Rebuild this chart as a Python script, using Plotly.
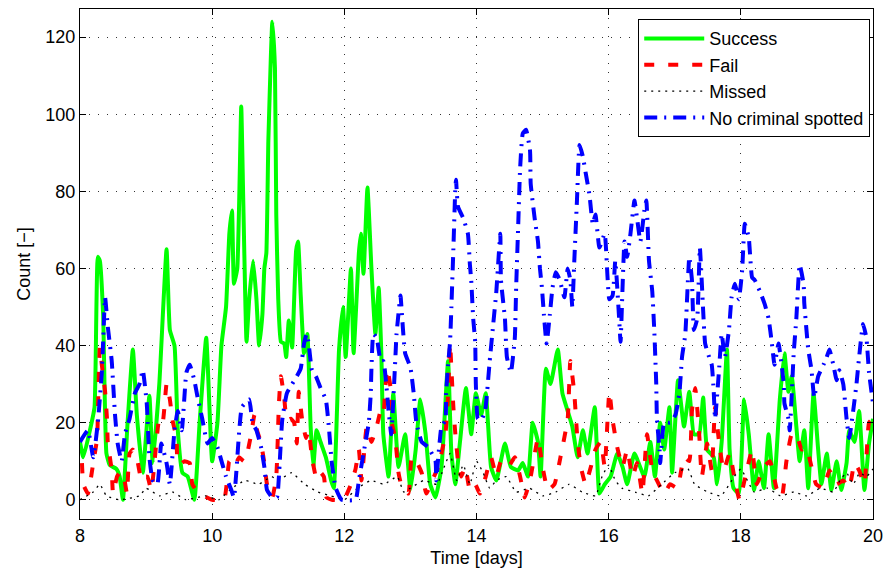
import plotly.graph_objects as go

# ---------------- data (time in days, counts) ----------------
success_t = [8.00, 8.05, 8.15, 8.22, 8.27, 8.30, 8.35, 8.40, 8.45, 8.55, 8.60, 8.65, 8.72, 8.80, 8.86, 8.95,
             9.05, 9.10, 9.20, 9.31, 9.36, 9.43, 9.48, 9.55, 9.63, 9.73, 9.81, 9.91, 10.00, 10.08, 10.14,
             10.21, 10.26, 10.30, 10.33, 10.38, 10.44, 10.47, 10.52, 10.56, 10.62, 10.67, 10.71, 10.76,
             10.79, 10.82, 10.85, 10.89, 10.91, 10.95, 10.97, 11.00, 11.04, 11.09, 11.12, 11.16, 11.21,
             11.27, 11.30, 11.34, 11.39, 11.44, 11.49, 11.53, 11.58, 11.64, 11.72, 11.80, 11.84, 11.92,
             11.98, 12.02, 12.10, 12.14, 12.22, 12.25, 12.29, 12.35, 12.41, 12.47, 12.52, 12.56, 12.59,
             12.67, 12.74, 12.82, 12.92, 13.00, 13.08, 13.15, 13.23, 13.30, 13.38, 13.47, 13.57, 13.62,
             13.68, 13.75, 13.84, 13.92, 13.99, 14.07, 14.14, 14.22, 14.30, 14.43, 14.52, 14.63, 14.70,
             14.78, 14.85, 14.93, 14.97, 15.05, 15.12, 15.23, 15.30, 15.38, 15.45, 15.53, 15.61, 15.68,
             15.79, 15.86, 15.94, 16.03, 16.13, 16.21, 16.28, 16.39, 16.54, 16.63, 16.70, 16.78, 16.84,
             16.92, 16.96, 17.05, 17.14, 17.22, 17.29, 17.37, 17.43, 17.49, 17.59, 17.64, 17.71, 17.79,
             17.83, 17.89, 17.97, 18.05, 18.12, 18.20, 18.27, 18.35, 18.42, 18.50, 18.59, 18.66, 18.72,
             18.77, 18.84, 18.89, 18.96, 19.02, 19.10, 19.17, 19.22, 19.30, 19.37, 19.45, 19.52, 19.60,
             19.64, 19.72, 19.79, 19.87, 19.94, 20.00]
success_v = [15, 11, 18, 24, 63, 62, 48, 12, 9, 8, 6, 0, 20, 39, 22, 7,
             27, 9.5, 30, 65, 44, 40, 18, 7, 6, 0, 20, 42, 10, 20, 40,
             50, 69, 75, 56, 60, 102, 78, 41, 52, 62, 52, 40, 48,
             60, 64, 93, 116, 124, 112, 74, 52, 41, 40.5, 37, 46.5, 39.5,
             64.6, 67, 53, 38, 43, 19, 8.5, 18, 15, 11, 5, 3, 39,
             50, 37, 60, 38, 64, 69, 58.6, 81, 60, 43, 55, 38, 17,
             6, 27.6, 8.5, 17, 2.5, 13, 26, 17, 4, 0.6, 8.5, 36, 12,
             4, 15, 29, 17, 27.6, 22, 27.6, 8.5, 5, 14.6, 8.5, 7.6, 9.5,
             6, 20, 15, 6, 34, 30, 39, 27.6, 23, 19, 11, 18, 12,
             24, 1.6, 4, 6, 12, 8.5, 4, 12, 6, 15, 6, 20, 13,
             24, 7, 31, 19, 28, 17, 17, 26.5, 13, 11, 4, 15, 39,
             13, 3, 1.6, 26, 17, 2.5, 10, 3, 17, 3, 26, 38, 28,
             32, 19, 10, 18, 3, 27.6, 13, 4, 12, 2.5, 10, 2.5, 9.5,
             18, 15, 23, 2.5, 14.6, 21]

fail_t = [8.03, 8.05, 8.12, 8.20, 8.26, 8.27, 8.30, 8.33, 8.38, 8.41, 8.42, 8.48, 8.50, 8.56, 8.60, 8.65,
          8.71, 8.75, 8.80, 8.87, 8.93, 8.98, 9.02, 9.08, 9.20, 9.25, 9.31, 9.36, 9.40, 9.46, 9.48, 9.54,
          9.58, 9.66, 9.70, 9.76, 9.88, 10.00, 10.18, 10.26, 10.33, 10.41, 10.48, 10.53, 10.59, 10.64,
          10.68, 10.74, 10.79, 10.83, 10.91, 10.97, 11.01, 11.04, 11.09, 11.13, 11.19, 11.24, 11.28,
          11.31, 11.36, 11.42, 11.46, 11.51, 11.57, 11.61, 11.69, 11.73, 11.81, 11.99, 12.10, 12.17,
          12.22, 12.26, 12.34, 12.41, 12.49, 12.55, 12.59, 12.62, 12.65, 12.70, 12.71, 12.77, 12.82,
          12.86, 12.97, 13.02, 13.09, 13.17, 13.24, 13.33, 13.42, 13.53, 13.57, 13.60, 13.62, 13.65,
          13.68, 13.72, 13.77, 13.83, 13.90, 13.98, 14.05, 14.14, 14.22, 14.30, 14.37, 14.48, 14.58,
          14.66, 14.73, 14.82, 14.93, 15.00, 15.08, 15.18, 15.27, 15.38, 15.42, 15.48, 15.53, 15.58,
          15.65, 15.73, 15.80, 15.88, 15.94, 16.01, 16.06, 16.13, 16.21, 16.28, 16.36, 16.43, 16.51,
          16.58, 16.66, 16.73, 16.84, 16.93, 17.04, 17.14, 17.22, 17.26, 17.31, 17.37, 17.41, 17.49,
          17.56, 17.61, 17.67, 17.74, 17.83, 17.91, 17.98, 18.09, 18.17, 18.24, 18.35, 18.44, 18.54,
          18.62, 18.69, 18.77, 18.84, 18.92, 18.99, 19.07, 19.14, 19.25, 19.34, 19.45, 19.55, 19.64,
          19.72, 19.79, 19.87, 19.94, 20.00]
fail_v = [9.5, 4, 1.6, 9.5, 16, 22, 39.5, 35, 28, 20.6, 15, 7.6, 1.6, 6, 7, 7,
          1.6, 12, 13, 10, 5, 6, 6, 2.5, 21, 20, 30, 26, 20.6, 16, 9.5, 9.5,
          10, 9.5, 4, 2.5, 1, 0, 0, 10, 8.5, 11, 10, 12, 17, 22,
          18, 14.6, 9.5, 4, 0.6, 6, 25, 32, 26.5, 20.6, 21, 20, 14.6,
          28, 21, 16, 18, 11, 6, 7.6, 6, 0.6, 0, 0, 4, 8,
          13, 5, 19, 15, 19, 23, 22, 29, 34, 29, 20.6, 16, 7,
          4, 1.6, 11, 10, 7, 1.6, 5, 8.5, 17, 27.6, 40.5, 34, 24,
          17, 10, 6, 8.5, 2.5, 4, 1.6, 6, 11, 6, 10, 8.5, 11,
          6, 0.6, 6, 16, 8.5, 2.5, 4, 11, 21, 36, 27.6, 15, 8.5,
          4, 8.5, 13, 15, 8.5, 28, 20.6, 13.6, 8.5, 13, 6, 9.5, 1.6,
          17, 7.6, 5, 1.6, 4, 3, 11, 10, 23, 29, 17, 6, 14.6,
          7.6, 24, 15, 7.6, 12, 5, 0, 7.6, 13, 4, 8.5, 10, 3,
          0.6, 10, 17, 17, 13, 13.6, 8.5, 4, 3, 7.6, 4, 5, 3,
          9.5, 7.6, 4, 20, 21]

missed_t = [8.0, 8.2, 8.3, 8.4, 8.6, 8.9, 9.0, 9.2, 9.4, 9.6, 9.9, 10.1, 10.3, 10.5, 10.7, 10.9, 11.0,
            11.2, 11.4, 11.6, 11.8, 12.0, 12.2, 12.4, 12.6, 12.8, 12.9, 13.0, 13.2, 13.4, 13.5, 13.6,
            13.7, 13.8, 13.9, 14.0, 14.1, 14.2, 14.3, 14.45, 14.6, 14.8, 15.0, 15.2, 15.4, 15.6, 15.8,
            15.9, 16.0, 16.1, 16.2, 16.4, 16.6, 16.8, 17.0, 17.2, 17.3, 17.5, 17.7, 17.9, 18.0, 18.1,
            18.2, 18.4, 18.6, 18.8, 19.0, 19.2, 19.4, 19.5, 19.6, 19.7, 19.8, 19.9, 20.0]
missed_v = [0, 2, 4, 1, 0, 1, 3, 1, 2, 0, 1, 0, 3, 5, 4, 6, 5,
            7, 4, 2, 1, 0, 3, 5, 4, 6, 2, 3, 5, 4, 8, 12,
            5, 9, 4, 10, 7, 3, 5, 6, 2, 3, 1, 2, 4, 2, 1,
            6, 9, 5, 3, 2, 1, 4, 7, 8, 4, 2, 1, 6, 8, 5,
            2, 3, 1, 2, 1, 3, 2, 5, 7, 4, 7, 6, 8]

nocrim_t = [8.00, 8.12, 8.20, 8.27, 8.33, 8.35, 8.38, 8.42, 8.48, 8.53, 8.57, 8.63, 8.68, 8.75, 8.83, 8.90,
            8.95, 9.01, 9.05, 9.10, 9.17, 9.23, 9.31, 9.36, 9.43, 9.48, 9.54, 9.61, 9.66, 9.73, 9.78,
            9.85, 9.93, 10.00, 10.08, 10.15, 10.21, 10.29, 10.33, 10.41, 10.45, 10.56, 10.61, 10.67,
            10.74, 10.79, 10.83, 10.91, 10.98, 11.01, 11.06, 11.13, 11.21, 11.28, 11.34, 11.39, 11.43,
            11.46, 11.51, 11.57, 11.64, 11.72, 11.77, 11.81, 11.87, 11.96, 12.17, 12.22, 12.29, 12.37,
            12.40, 12.41, 12.44, 12.49, 12.55, 12.59, 12.67, 12.71, 12.77, 12.79, 12.85, 12.86, 12.92,
            13.00, 13.05, 13.09, 13.17, 13.27, 13.38, 13.39, 13.47, 13.53, 13.54, 13.57, 13.60, 13.62,
            13.65, 13.68, 13.69, 13.72, 13.80, 13.87, 13.90, 13.92, 13.95, 13.98, 13.99, 14.02, 14.07,
            14.13, 14.20, 14.25, 14.30, 14.36, 14.37, 14.43, 14.46, 14.52, 14.58, 14.60, 14.63, 14.66,
            14.70, 14.75, 14.81, 14.82, 14.88, 14.93, 14.96, 14.99, 15.02, 15.06, 15.11, 15.15, 15.20,
            15.26, 15.33, 15.38, 15.42, 15.45, 15.48, 15.52, 15.56, 15.61, 15.65, 15.71, 15.76, 15.80,
            15.86, 15.94, 15.98, 16.01, 16.06, 16.10, 16.16, 16.18, 16.24, 16.28, 16.33, 16.39, 16.43,
            16.48, 16.54, 16.57, 16.61, 16.66, 16.69, 16.72, 16.73, 16.77, 16.78, 16.84, 16.93, 17.01,
            17.07, 17.11, 17.16, 17.22, 17.26, 17.29, 17.34, 17.38, 17.43, 17.46, 17.52, 17.56, 17.59,
            17.61, 17.67, 17.71, 17.76, 17.82, 17.86, 17.91, 17.97, 18.02, 18.06, 18.12, 18.17, 18.21,
            18.29, 18.36, 18.42, 18.47, 18.51, 18.57, 18.65, 18.66, 18.72, 18.74, 18.80, 18.84, 18.89,
            18.95, 18.96, 19.02, 19.07, 19.11, 19.17, 19.25, 19.30, 19.34, 19.40, 19.45, 19.49, 19.55,
            19.60, 19.64, 19.70, 19.75, 19.79, 19.85, 19.90, 19.94, 20.00]
nocrim_v = [15, 18, 11, 20, 33, 41, 52.5, 45, 36, 22, 14.6, 10, 17, 21, 27.6, 30,
            33.6, 25, 11, 5, 4, 14.6, 9.5, 4, 18, 23, 18, 33, 35, 31, 26.5,
            21, 14.6, 16, 13.6, 9.5, 6, 2.5, 0.6, 18, 24, 26, 20, 18,
            13.6, 8.5, 2.5, 0.6, 0.6, 6, 20.6, 27.6, 30, 32, 34, 40.5, 43,
            40.5, 33.6, 32, 29, 26, 18, 9.5, 3, 0, 0, 5, 12, 20,
            27.6, 34, 43, 42, 36, 36, 23, 17, 36, 43, 53, 51, 38,
            34.3, 27.6, 20, 15, 13.6, 10, 5, 19, 20.6, 27.6, 35, 41, 50,
            65, 81, 83, 76, 73, 69, 61, 57, 47, 41, 30, 21, 20.6,
            23, 36, 45, 54, 69, 57, 47, 37, 33, 42, 55, 70.6, 86,
            95, 96, 90.5, 82, 73, 67, 60, 55, 48, 40.5, 48, 55, 59,
            57, 52.5, 60, 57, 50, 62, 77.6, 92, 89, 85, 79, 71.5, 74,
            65.4, 69, 58.6, 52, 53, 62, 46.5, 41, 67, 63, 69, 77.6, 73,
            67, 75, 77.6, 62, 54, 44, 30, 21, 13, 9.5, 20, 20, 22,
            27.6, 37, 43, 63, 57, 44, 47, 65.4, 49, 40.5, 37, 35, 28,
            21, 33.6, 43, 37, 44, 52.5, 56, 52, 59.5, 71.6, 68, 57.7, 57,
            54, 50.8, 47, 40.5, 35, 40.5, 30, 25, 21, 18, 38, 47, 61,
            56, 51, 39, 33.6, 26.5, 32, 35, 37, 39, 35, 31, 33.6, 30,
            21, 16, 23, 30, 37, 45.6, 42, 33, 25]

x_ticks = [8, 10, 12, 14, 16, 18, 20]
y_ticks = [0, 20, 40, 60, 80, 100, 120]

FONT = "Liberation Sans, Arial, sans-serif"

fig = go.Figure()
fig.add_trace(go.Scatter(x=success_t, y=success_v, mode="lines", name="Success",
                         line=dict(color="#00ff00", width=4, shape="spline", smoothing=0.4)))
fig.add_trace(go.Scatter(x=fail_t, y=fail_v, mode="lines", name="Fail",
                         line=dict(color="#ff0000", width=4, dash="10px,14px", shape="spline", smoothing=0.4)))
fig.add_trace(go.Scatter(x=missed_t, y=missed_v, mode="lines", name="Missed",
                         line=dict(color="#000000", width=1.3, dash="2px,5px", shape="spline", smoothing=0.4)))
fig.add_trace(go.Scatter(x=nocrim_t, y=nocrim_v, mode="lines", name="No criminal spotted",
                         line=dict(color="#0000ff", width=4, dash="13px,7px,2px,7px", shape="spline", smoothing=0.4)))

axis_common = dict(
    showline=True, linecolor="black", linewidth=1, mirror="ticks",
    ticks="inside", ticklen=6, tickcolor="black", tickwidth=1,
    showgrid=True, gridcolor="#333333", gridwidth=1, griddash="1px,8px",
    zeroline=False, tickfont=dict(family=FONT, size=18, color="black"),
)
fig.update_xaxes(range=[8, 20], tickvals=x_ticks, ticktext=[str(v) for v in x_ticks],
                 title=dict(text="Time [days]", font=dict(family=FONT, size=18, color="black"), standoff=6),
                 **axis_common)
fig.update_yaxes(range=[-5, 127.3], tickvals=y_ticks, ticktext=[str(v) for v in y_ticks],
                 title=dict(text="Count [−]", font=dict(family=FONT, size=18, color="black"), standoff=10),
                 **axis_common)

fig.update_layout(
    width=891, height=577,
    margin=dict(l=80, r=14, t=8, b=58),
    paper_bgcolor="white", plot_bgcolor="white",
    font=dict(family=FONT, size=18, color="black"),
    showlegend=True,
    legend=dict(x=0.9965, y=0.98, xanchor="right", yanchor="top",
                bgcolor="white", bordercolor="black", borderwidth=1,
                font=dict(family=FONT, size=18, color="black"),
                tracegroupgap=0, itemwidth=60),
)

fig.write_html("out.html")
